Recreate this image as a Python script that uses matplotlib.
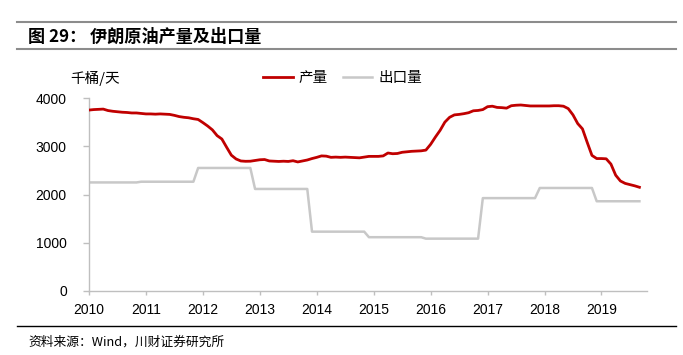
import numpy as np
import matplotlib
matplotlib.use("Agg")
import matplotlib.pyplot as plt
from matplotlib.lines import Line2D

plt.rcParams['font.family'] = ['Liberation Sans', 'Noto Sans CJK SC', 'DejaVu Sans']

# ---- data (monthly, Jan 2010 - Sep 2019), thousand barrels / day ----
production = [
    3750, 3760, 3765, 3770, 3740, 3725, 3715, 3705, 3700, 3690, 3690, 3680,  # 2010
    3670, 3670, 3665, 3670, 3665, 3660, 3640, 3615, 3600, 3590, 3570, 3555,  # 2011
    3490, 3420, 3340, 3220, 3150, 2980, 2815, 2736, 2695, 2688, 2690, 2705,  # 2012
    2720, 2725, 2695, 2690, 2685, 2690, 2685, 2700, 2675, 2695, 2715, 2745,  # 2013
    2770, 2800, 2795, 2770, 2775, 2770, 2775, 2770, 2765, 2760, 2775, 2790,  # 2014
    2790, 2790, 2800, 2860, 2845, 2850, 2875, 2885, 2895, 2900, 2905, 2920,  # 2015
    3040, 3190, 3330, 3500, 3600, 3650, 3660, 3675, 3695, 3735, 3742, 3760,  # 2016
    3820, 3830, 3805, 3800, 3790, 3840, 3850, 3855, 3845, 3835, 3835, 3835,  # 2017
    3835, 3835, 3840, 3840, 3830, 3780, 3650, 3470, 3360, 3080, 2810, 2745,  # 2018
    2745, 2740, 2630, 2400, 2280, 2230, 2205, 2180, 2150,                    # 2019
]
exports = [
    2250, 2250, 2250, 2250, 2250, 2250, 2250, 2250, 2250, 2250, 2250, 2265,  # 2010
    2265, 2265, 2265, 2265, 2265, 2265, 2265, 2265, 2265, 2265, 2265, 2550,  # 2011
    2550, 2550, 2550, 2550, 2550, 2550, 2550, 2550, 2550, 2550, 2550, 2115,  # 2012
    2115, 2115, 2115, 2115, 2115, 2115, 2115, 2115, 2115, 2115, 2115, 1230,  # 2013
    1230, 1230, 1230, 1230, 1230, 1230, 1230, 1230, 1230, 1230, 1230, 1115,  # 2014
    1115, 1115, 1115, 1115, 1115, 1115, 1115, 1115, 1115, 1115, 1115, 1085,  # 2015
    1085, 1085, 1085, 1085, 1085, 1085, 1085, 1085, 1085, 1085, 1085, 1925,  # 2016
    1925, 1925, 1925, 1925, 1925, 1925, 1925, 1925, 1925, 1925, 1925, 2135,  # 2017
    2135, 2135, 2135, 2135, 2135, 2135, 2135, 2135, 2135, 2135, 2135, 1860,  # 2018
    1860, 1860, 1860, 1860, 1860, 1860, 1860, 1860, 1860,                    # 2019
]
start_year = 2010
year_ticks = [2010, 2011, 2012, 2013, 2014, 2015, 2016, 2017, 2018, 2019]
y_ticks = [0, 1000, 2000, 3000, 4000]
series_names = ["产量", "出口量"]
title = "图 29： 伊朗原油产量及出口量"
unit = "千桶/天"
source = "资料来源：Wind，川财证券研究所"

x = start_year + np.arange(len(production)) / 12.0

W, H = 683, 355
fig = plt.figure(figsize=(W / 100, H / 100), dpi=100)

ax = fig.add_axes([89 / W, 1 - 291 / H, (647 - 89) / W, (291 - 98) / H])
red = "#C00000"
gray = "#C8C8C8"
l1, = ax.plot(x, production, color=red, lw=2.0, solid_joinstyle='round', zorder=3)
l2, = ax.plot(x, exports, color=gray, lw=1.8, solid_joinstyle='round', zorder=2)

ax.set_xlim(2010, 2019.8)
ax.set_ylim(0, 4000)
ax.set_xticks(year_ticks)
ax.set_xticklabels([str(t) for t in year_ticks])
ax.set_yticks(y_ticks)
for s in ['top', 'right']:
    ax.spines[s].set_visible(False)
for s in ['left', 'bottom']:
    ax.spines[s].set_color('#BFBFBF')
    ax.spines[s].set_linewidth(1.0)
ax.tick_params(axis='both', colors='#BFBFBF', width=1.0,
               labelcolor='black', labelsize=10, direction='out')
ax.tick_params(axis='x', length=3, pad=6)
ax.tick_params(axis='y', length=4, pad=12)

# unit label
fig.text(70 / W, 1 - 78 / H, unit, fontsize=10.5, family=['Noto Sans CJK SC', 'DejaVu Sans'],
         va='center', ha='left')

# legend
fig.legend([l1, l2], series_names, loc='center left',
           bbox_to_anchor=(263 / W, 1 - 78 / H), ncol=2, frameon=False,
           prop={'family': ['Noto Sans CJK SC', 'DejaVu Sans'], 'size': 10.5},
           handlelength=2.05, handletextpad=0.4, columnspacing=1.0,
           borderaxespad=0, borderpad=0)

# title and rules
fig.add_artist(Line2D([17 / W, 676 / W], [1 - 22 / H, 1 - 22 / H], color='#8C8C8C', lw=1.5))
fig.add_artist(Line2D([17 / W, 676 / W], [1 - 48.5 / H, 1 - 48.5 / H], color='#8C8C8C', lw=1.5))
fig.text(28 / W, 1 - 37 / H, title, fontsize=12.3, fontweight='bold',
         family=['Noto Sans CJK SC', 'DejaVu Sans'], va='center', ha='left')

# source
fig.add_artist(Line2D([17 / W, 676 / W], [1 - 326 / H, 1 - 326 / H], color='black', lw=1.0))
fig.text(28 / W, 1 - 342 / H, source, fontsize=9.2, style='italic',
         family=['Noto Sans CJK SC', 'DejaVu Sans'], va='center', ha='left')

fig.savefig("out.png", dpi=100)
